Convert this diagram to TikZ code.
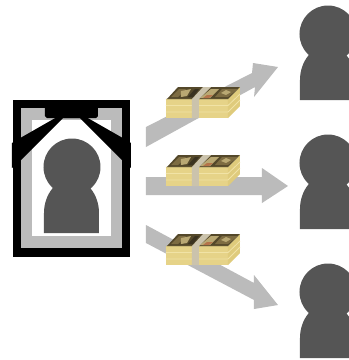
\documentclass[tikz,border=0pt]{standalone}
\definecolor{pers}{HTML}{555555}
\definecolor{arr}{HTML}{BBBBBB}
\definecolor{frameg}{HTML}{BBBBBB}
\definecolor{billf}{HTML}{E6D388}
\definecolor{billl}{HTML}{F1E3A6}
\definecolor{billr}{HTML}{DFCB7C}
\definecolor{bandc}{HTML}{CBC3AC}
\definecolor{billd}{HTML}{54482A}
\definecolor{billm}{HTML}{7D6C42}
\definecolor{billt}{HTML}{B9A873}
\definecolor{billk}{HTML}{3A3220}
\definecolor{billred}{HTML}{B5734A}
\tikzset{
  person/.pic={
    \fill[pers] (28,28) circle[radius=28.5];
    \fill[pers] (0,94) -- (0,74) arc[start angle=180,end angle=0,x radius=27.5,y radius=-34] -- (55,94) -- cycle;
  },
  money/.pic={
    \fill[billf] (0,12) -- (62,12) -- (62,31) -- (0,31) -- cycle;
    \fill[billr] (62,12) -- (74,0) -- (74,19) -- (62,31) -- cycle;
    \fill[billd] (1,12) -- (12,0) -- (74,0) -- (62,12) -- cycle;
    \fill[billm] (5,10) -- (13,2) -- (20,2) -- (12,10) -- cycle;
    \fill[billt] (15,4) -- (25,2) -- (21,9) -- (15,10) -- cycle;
    \fill[billk] (22,10) -- (29,2) -- (33,2) -- (27,10) -- cycle;
    \fill[billt] (34,11) -- (45,2) -- (53,2) -- (44,11) -- cycle;
    \fill[billm] (49,10) -- (56,2) -- (72,2) -- (62,10) -- cycle;
    \fill[billt] (55,6) -- (60,3) -- (65,5) -- (60,8) -- cycle;
    \fill[billred] (37,11) -- (41,8) -- (47,8) -- (43,11) -- cycle;
    \draw[billl,line width=.8pt] (0,18.5) -- (62,18.5) -- (74,7)
       (0,25) -- (62,25) -- (74,13);
    \draw[billk!40!billf,line width=.3pt] (0,12) -- (62,12) -- (74,0);
    \fill[bandc] (26,12) -- (37,0) -- (45,0) -- (33,12) -- (33,31) -- (26,31) -- cycle;
  }
}
\begin{document}
\begin{tikzpicture}[x=1pt,y=-1pt]
\useasboundingbox (0,0) rectangle (349,360);
% frame
\fill[black] (13,100) rectangle (130,257);
\fill[frameg] (21.5,108) rectangle (122,248);
\fill[white] (32,120) rectangle (111,236);
% ribbon
\fill[black] (57,117) -- (22,137) -- (12,143) -- (12,168) -- (21,160) -- (63,118) -- (80,118) -- (122,160) -- (131,168) -- (131,143) -- (121,137) -- (86,117) -- cycle;
\fill[black] (45,105) -- (47,102) -- (62,104) -- (81,104) -- (96,102) -- (98,105) -- (98,116) -- (96,118) -- (47,118) -- (45,116) -- cycle;
% person in the frame
\pic at (44,139) {person};
% arrows
\fill[arr] (146,127) -- (252,73) -- (253,63) -- (278,67) -- (254,97) -- (255,87) -- (146,147) -- cycle;
\fill[arr] (146,177) -- (262,177) -- (262,168) -- (288,186) -- (262,203) -- (262,195) -- (146,195) -- cycle;
\fill[arr] (146,225) -- (254,283) -- (254,275) -- (278,305) -- (254,309) -- (254,300) -- (146,243) -- cycle;
% money
\pic at (166,87) {money};
\pic at (166,155) {money};
\pic at (166,234) {money};
% people on the right
\pic at (300,6) {person};
\pic at (300,135) {person};
\pic at (300,264) {person};
\end{tikzpicture}
\end{document}
